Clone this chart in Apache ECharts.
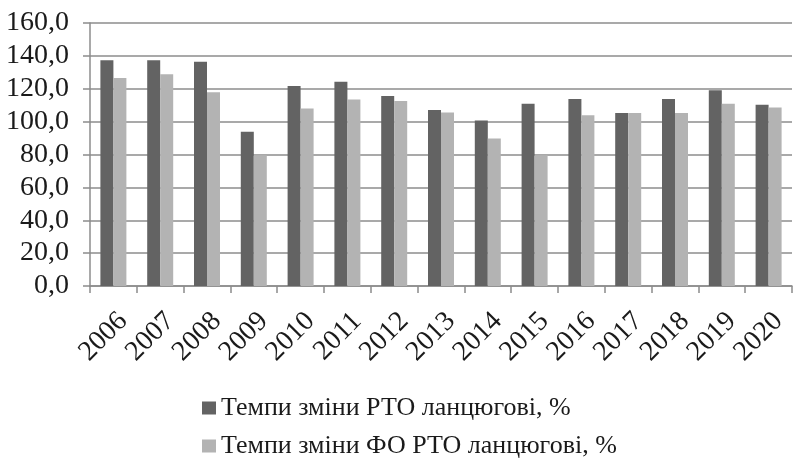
<!DOCTYPE html>
<html lang="uk">
<head>
    <meta charset="UTF-8">
    <title>Темпи зміни РТО</title>
    <script src="https://cdn.jsdelivr.net/npm/echarts@6.0.0/dist/echarts.min.js"></script>
    <style>
        * { margin: 0; padding: 0; }
        body { background: #fff; }
        #chart { width: 794px; height: 458px; }
    </style>
</head>
<body>
<div id="chart"></div>
<script>
    // дані з графіка
    const years = ['2006', '2007', '2008', '2009', '2010', '2011', '2012', '2013',
        '2014', '2015', '2016', '2017', '2018', '2019', '2020'];
    const rtoChain = [137.3, 137.3, 136.5, 93.8, 121.7, 124.2, 115.6, 107.1,
        100.7, 110.8, 113.8, 105.3, 113.8, 119.1, 110.2];
    const foRtoChain = [126.6, 128.8, 117.9, 79.6, 108.0, 113.4, 112.6, 105.5,
        89.7, 79.6, 103.9, 105.3, 105.3, 110.8, 108.6];
    const seriesNames = ['Темпи зміни РТО ланцюгові, %', 'Темпи зміни ФО РТО ланцюгові, %'];

    const fontFamily = '"Liberation Serif", "DejaVu Serif", serif';
    const lineColor = '#8c8c8c';

    let myChart = echarts.init(document.getElementById('chart'));

    let option = {
        animation: false,
        textStyle: {fontFamily: fontFamily},
        grid: {
            left: 90,
            right: 2,
            top: 23,
            bottom: 172,
            containLabel: false,
            outerBoundsMode: 'none'
        },
        legend: {
            orient: 'vertical',
            left: 197,
            top: 390,
            height: 68,
            itemWidth: 14,
            itemHeight: 13,
            itemGap: 12,
            icon: 'rect',
            textStyle: {fontFamily: fontFamily, fontSize: 26, color: '#1a1a1a'},
            data: seriesNames
        },
        xAxis: {
            type: 'category',
            data: years,
            axisLine: {lineStyle: {color: lineColor, width: 1.5}},
            axisTick: {show: true, length: 7, lineStyle: {color: lineColor, width: 1.5}},
            axisLabel: {
                interval: 0,
                rotate: 45,
                margin: 21,
                verticalAlign: 'top',
                fontSize: 28,
                color: '#1a1a1a',
                fontFamily: fontFamily
            }
        },
        yAxis: {
            type: 'value',
            min: 0,
            max: 160,
            interval: 20,
            axisLine: {show: true, lineStyle: {color: lineColor, width: 1.5}},
            axisTick: {show: true, length: 7, lineStyle: {color: lineColor, width: 1.5}},
            splitLine: {lineStyle: {color: lineColor, width: 1.5}},
            axisLabel: {
                margin: 21,
                fontSize: 28,
                color: '#1a1a1a',
                fontFamily: fontFamily,
                formatter: function (v) {
                    return v.toFixed(1).replace('.', ',');
                }
            }
        },
        series: [
            {
                name: seriesNames[0],
                type: 'bar',
                data: rtoChain,
                barWidth: 13,
                barGap: '0%',
                itemStyle: {color: '#636363'}
            },
            {
                name: seriesNames[1],
                type: 'bar',
                data: foRtoChain,
                barWidth: 13,
                itemStyle: {color: '#b3b3b3'}
            }
        ]
    };

    myChart.setOption(option);
</script>
</body>
</html>
